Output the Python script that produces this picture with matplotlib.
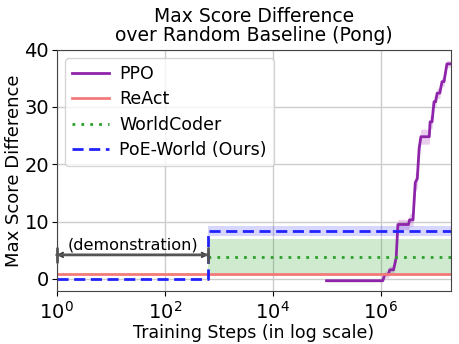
import numpy as np
import matplotlib
matplotlib.use("Agg")
import matplotlib.pyplot as plt

# data
x_max = 2e7
demo_steps = 640

react_score = 0.8

worldcoder_score = 3.9
worldcoder_lo = 0.6
worldcoder_hi = 7.0

poe_before = 0.0
poe_after = 8.4
poe_lo = 7.5
poe_hi = 9.3

ppo_steps = [1e5, 1.1e6, 1.2e6, 1.4e6, 1.48e6, 1.74e6, 1.95e6, 2.1e6, 3.3e6, 3.45e6,
             4.0e6, 4.4e6, 4.8e6, 5.2e6, 5.6e6, 8.0e6, 8.3e6, 9.0e6, 9.8e6, 1.05e7,
             1.12e7, 1.25e7, 1.38e7, 1.5e7, 1.7e7, 1.95e7]
ppo_score = [-0.3, -0.3, 0.8, 0.8, 1.6, 1.6, 3.7, 9.5, 9.5, 10.3,
             10.3, 16.8, 17.5, 22.8, 24.8, 24.8, 27.4, 27.4, 30.9, 30.9,
             32.4, 32.4, 34.4, 34.4, 37.5, 37.5]
ppo_spread = [0.2, 0.2, 0.6, 0.6, 0.7, 0.7, 0.9, 0.9, 0.9, 1.1,
              1.1, 1.6, 1.6, 1.6, 1.3, 1.3, 1.2, 1.2, 1.0, 1.0,
              0.9, 0.9, 0.8, 0.8, 0.6, 0.6]

fig = plt.figure(figsize=(4.59, 3.44), dpi=100)
ax = fig.add_axes([0.1235, 0.154, 0.8585, 0.702])

# PPO
ppo_x = np.array(ppo_steps)
ppo_y = np.array(ppo_score)
ppo_s = np.array(ppo_spread)
ax.fill_between(ppo_x, ppo_y - ppo_s, ppo_y + ppo_s, color="#9c27b0", alpha=0.22, lw=0)
ax.plot(ppo_x, ppo_y, color="#8e24aa", lw=2, label="PPO")

# ReAct
ax.plot([1, x_max], [react_score, react_score], color="#f47a7a", lw=2, label="ReAct")

# WorldCoder
ax.fill_between([demo_steps, x_max], worldcoder_lo, worldcoder_hi, color="#2ca02c", alpha=0.22, lw=0)
ax.plot([demo_steps, x_max], [worldcoder_score, worldcoder_score], color="#2ca02c",
        lw=2, ls=(0, (1, 2.2)), label="WorldCoder")

# PoE-World
ax.fill_between([demo_steps, x_max], poe_lo, poe_hi, color="#3333ff", alpha=0.2, lw=0)
ax.plot([1, demo_steps, demo_steps, x_max], [poe_before, poe_before, poe_after, poe_after],
        color="#2222ff", lw=2, ls=(0, (4, 2)), label="PoE-World (Ours)")

# demonstration arrow
ax.annotate("", xy=(1, 4.2), xytext=(demo_steps, 4.2),
            arrowprops=dict(arrowstyle="<->", color="#333333", lw=1.3,
                            shrinkA=0, shrinkB=0, mutation_scale=8))
ax.annotate("", xy=(1, 4.2), xytext=(demo_steps, 4.2),
            arrowprops=dict(arrowstyle="|-|,widthA=0.5,widthB=0.5", color="#555555", lw=2,
                            shrinkA=0, shrinkB=0))
ax.text(np.sqrt(demo_steps) * 1.02, 4.7, "(demonstration)", ha="center", va="bottom", fontsize=11.6)

ax.set_xscale("log")
ax.set_xlim(1, x_max)
ax.set_ylim(-2.1, 40)
ax.set_xticks([1, 1e2, 1e4, 1e6])
ax.xaxis.set_minor_locator(matplotlib.ticker.NullLocator())
ax.set_yticks([0, 10, 20, 30, 40])
ax.tick_params(labelsize=14)
ax.tick_params(axis="y", pad=2)
ax.grid(True, color="#cccccc", lw=1)
ax.set_axisbelow(True)
for s in ax.spines.values():
    s.set_color("#444444")

ax.set_xlabel("Training Steps (in log scale)", fontsize=12.5, labelpad=1)
ax.set_ylabel("Max Score Difference", fontsize=13, labelpad=1)
ax.set_title("Max Score Difference\nover Random Baseline (Pong)", fontsize=13.5, linespacing=1.0)

ax.legend(loc="upper left", fontsize=12.5, handlelength=2.1, handletextpad=0.6,
          labelspacing=0.42, borderaxespad=0.5)

fig.savefig("out.png", dpi=100)
